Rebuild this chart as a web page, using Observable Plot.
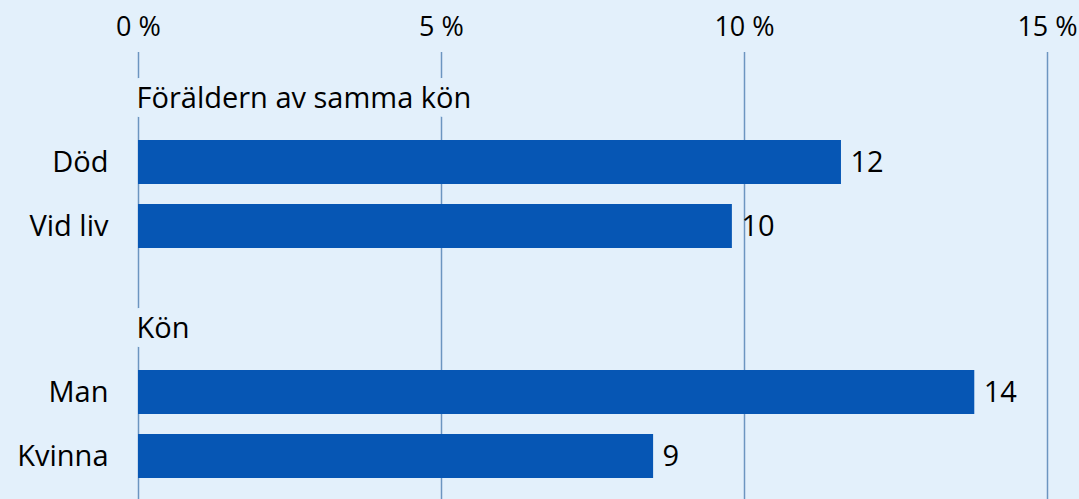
<!DOCTYPE html>
<html>
<head>
<meta charset="utf-8">
<script src="https://cdn.jsdelivr.net/npm/d3@7"></script>
<script src="https://cdn.jsdelivr.net/npm/@observablehq/plot@0.6"></script>
<style>
  html, body { margin: 0; padding: 0; background: #E3F0FB; }
  #chart { width: 1079px; }
  #chart svg { display: block; overflow: visible; }
</style>
</head>
<body>
<div id="chart"></div>
<script>
// ---- data ----
const headers = ["Föräldern av samma kön", "Kön"];
const categories1 = ["Död", "Vid liv"];
const values1 = [11.6, 9.8];
const labels1 = ["12", "10"];
const categories2 = ["Man", "Kvinna"];
const values2 = [13.8, 8.5];
const labels2 = ["14", "9"];
const xTicks = [0, 5, 10, 15];
const xTickLabels = ["0 %", "5 %", "10 %", "15 %"];

// ---- style ----
const BG = "#E3F0FB";
const BAR = "#0656B4";
const GRID = "#6C95C0";
const FONT = "Open Sans";
const FS = 29;

function panel(header, cats, vals, labs, cfg) {
  const data = cats.map((c, i) => ({cat: c, value: vals[i], label: labs[i]}));
  const marks = [
    Plot.ruleX(xTicks, {stroke: GRID, strokeWidth: 1.5}),
    Plot.text([header], {x: 0, y: d => d, text: d => d, textAnchor: "start", dx: -2,
      fill: "black", stroke: BG, strokeWidth: 18, fontSize: FS}),
    Plot.barX(data, {x: "value", y: "cat", fill: BAR}),
    Plot.text(data, {x: 0, y: "cat", text: "cat", textAnchor: "end", dx: -30, fill: "black", fontSize: FS}),
    Plot.text(data, {x: "value", y: "cat", text: "label", textAnchor: "start", dx: 9, fill: "black", fontSize: FS})
  ];
  if (cfg.axis) {
    marks.push(Plot.axisX(xTicks, {anchor: "top", tickSize: 0, tickPadding: 17,
      tickFormat: d => xTickLabels[xTicks.indexOf(d)], fontSize: 27, fill: "black"}));
  } else {
    marks.push(Plot.axisX({ticks: [], anchor: "top", label: null}));
  }
  return Plot.plot({
    width: 1079,
    height: cfg.height,
    marginLeft: 138,
    marginRight: 32,
    marginTop: cfg.marginTop,
    marginBottom: 0,
    style: {fontFamily: FONT, fontSize: FS + "px", background: "transparent", color: "black"},
    x: {domain: [0, 15], label: null, axis: null},
    y: {domain: [header, ...cats], range: cfg.yRange, paddingInner: 0.32, paddingOuter: 0.16, axis: null},
    marks
  });
}

const chart = document.getElementById("chart");
chart.appendChild(panel(headers[0], categories1, values1, labels1,
  {axis: true, height: 259, marginTop: 52, yRange: [65, 259]}));
chart.appendChild(panel(headers[1], categories2, values2, labels2,
  {axis: false, height: 240, marginTop: 0, yRange: [36, 229]}));
</script>
</body>
</html>
